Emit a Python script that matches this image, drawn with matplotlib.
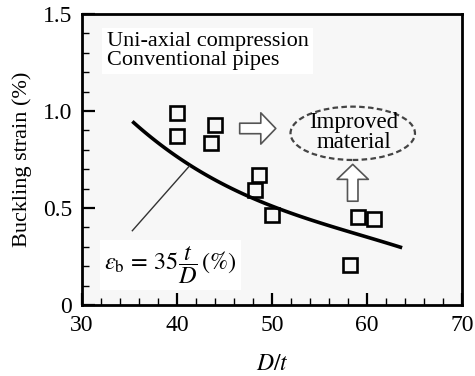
import numpy as np
import matplotlib
matplotlib.use("Agg")
import matplotlib.pyplot as plt
from matplotlib.patches import Ellipse
from matplotlib.ticker import MultipleLocator

plt.rcParams['font.family'] = ['Liberation Serif', 'DejaVu Serif']
plt.rcParams['mathtext.fontset'] = 'stix'

# test data (D/t, buckling strain %)
dt_pts = [40.0, 40.0, 44.0, 43.6, 48.6, 48.2, 50.0, 59.1, 60.7, 58.2]
eps_pts = [0.99, 0.87, 0.93, 0.835, 0.67, 0.595, 0.465, 0.455, 0.445, 0.205]

# fitted curve
dt_curve = [35.3, 37.7, 41.2, 44.7, 46.6, 49.2, 52.7, 56.2, 59.7, 63.7]
eps_curve = [0.954, 0.834, 0.730, 0.627, 0.584, 0.524, 0.464, 0.404, 0.352, 0.297]

fig = plt.figure(figsize=(4.75, 3.76), dpi=100)
ax = fig.add_axes([0.1726, 0.1888, 0.80, 0.774])
ax.set_facecolor('#f7f7f7')

# smooth the read curve a bit
xc = np.linspace(dt_curve[0], dt_curve[-1], 100)
coef = np.polyfit(dt_curve, eps_curve, 3)
ax.plot(xc, np.polyval(coef, xc), color='black', lw=2.6, solid_capstyle='butt')

ax.plot(dt_pts, eps_pts, linestyle='none', marker='s', ms=10, mew=1.9,
        mfc='none', mec='black')

# leader line to curve
ax.plot([35.3, 41.3], [0.383, 0.716], color='#333333', lw=1.0)

ax.text(32.6, 1.31, 'Uni-axial compression\nConventional pipes', fontsize=16,
        va='center', ha='left', linespacing=1.0,
        bbox=dict(fc='white', ec='none', pad=3))
ax.text(32.3, 0.205, r'$\varepsilon_{\rm b}\,=\,35\dfrac{t}{D}\,(\%)$', fontsize=17.5,
        va='center', ha='left', bbox=dict(fc='white', ec='none', pad=3))

ell = Ellipse((58.5, 0.885), 13.1, 0.275, fill=False, ec='#444444', lw=1.6,
              linestyle=(0, (2.5, 1.5)))
ax.add_patch(ell)
ax.text(58.6, 0.89, 'Improved\nmaterial', fontsize=16.5, ha='center', va='center',
        linespacing=0.9)

# hollow block arrows
astyle = 'simple,head_length=0.6,head_width=1.25,tail_width=0.42'
ax.annotate('', xy=(50.4, 0.91), xytext=(46.6, 0.91),
            arrowprops=dict(arrowstyle=astyle, fc='white', ec='#555555', lw=1.2,
                            mutation_scale=18, shrinkA=0, shrinkB=0))
ax.annotate('', xy=(58.5, 0.725), xytext=(58.5, 0.535),
            arrowprops=dict(arrowstyle=astyle, fc='white', ec='#555555', lw=1.2,
                            mutation_scale=18, shrinkA=0, shrinkB=0))

ax.set_xlim(30, 70)
ax.set_ylim(0, 1.5)
ax.xaxis.set_major_locator(MultipleLocator(10))
ax.xaxis.set_minor_locator(MultipleLocator(2))
ax.yaxis.set_major_locator(MultipleLocator(0.5))
ax.yaxis.set_minor_locator(MultipleLocator(0.1))
ax.set_yticks([0, 0.5, 1.0, 1.5])
ax.set_yticklabels(['0', '0.5', '1.0', '1.5'])
ax.tick_params(which='both', direction='in', top=False, right=False, labelsize=17)
ax.tick_params(which='major', length=9, width=1.6, pad=7)
ax.tick_params(which='minor', length=5, width=1.0)
for s in ax.spines.values():
    s.set_linewidth(2.0)

ax.set_xlabel(r'$D/t$', fontsize=17, labelpad=13)
ax.set_ylabel('Buckling strain (%)', fontsize=16, labelpad=8)

fig.savefig('out.png', dpi=100)
